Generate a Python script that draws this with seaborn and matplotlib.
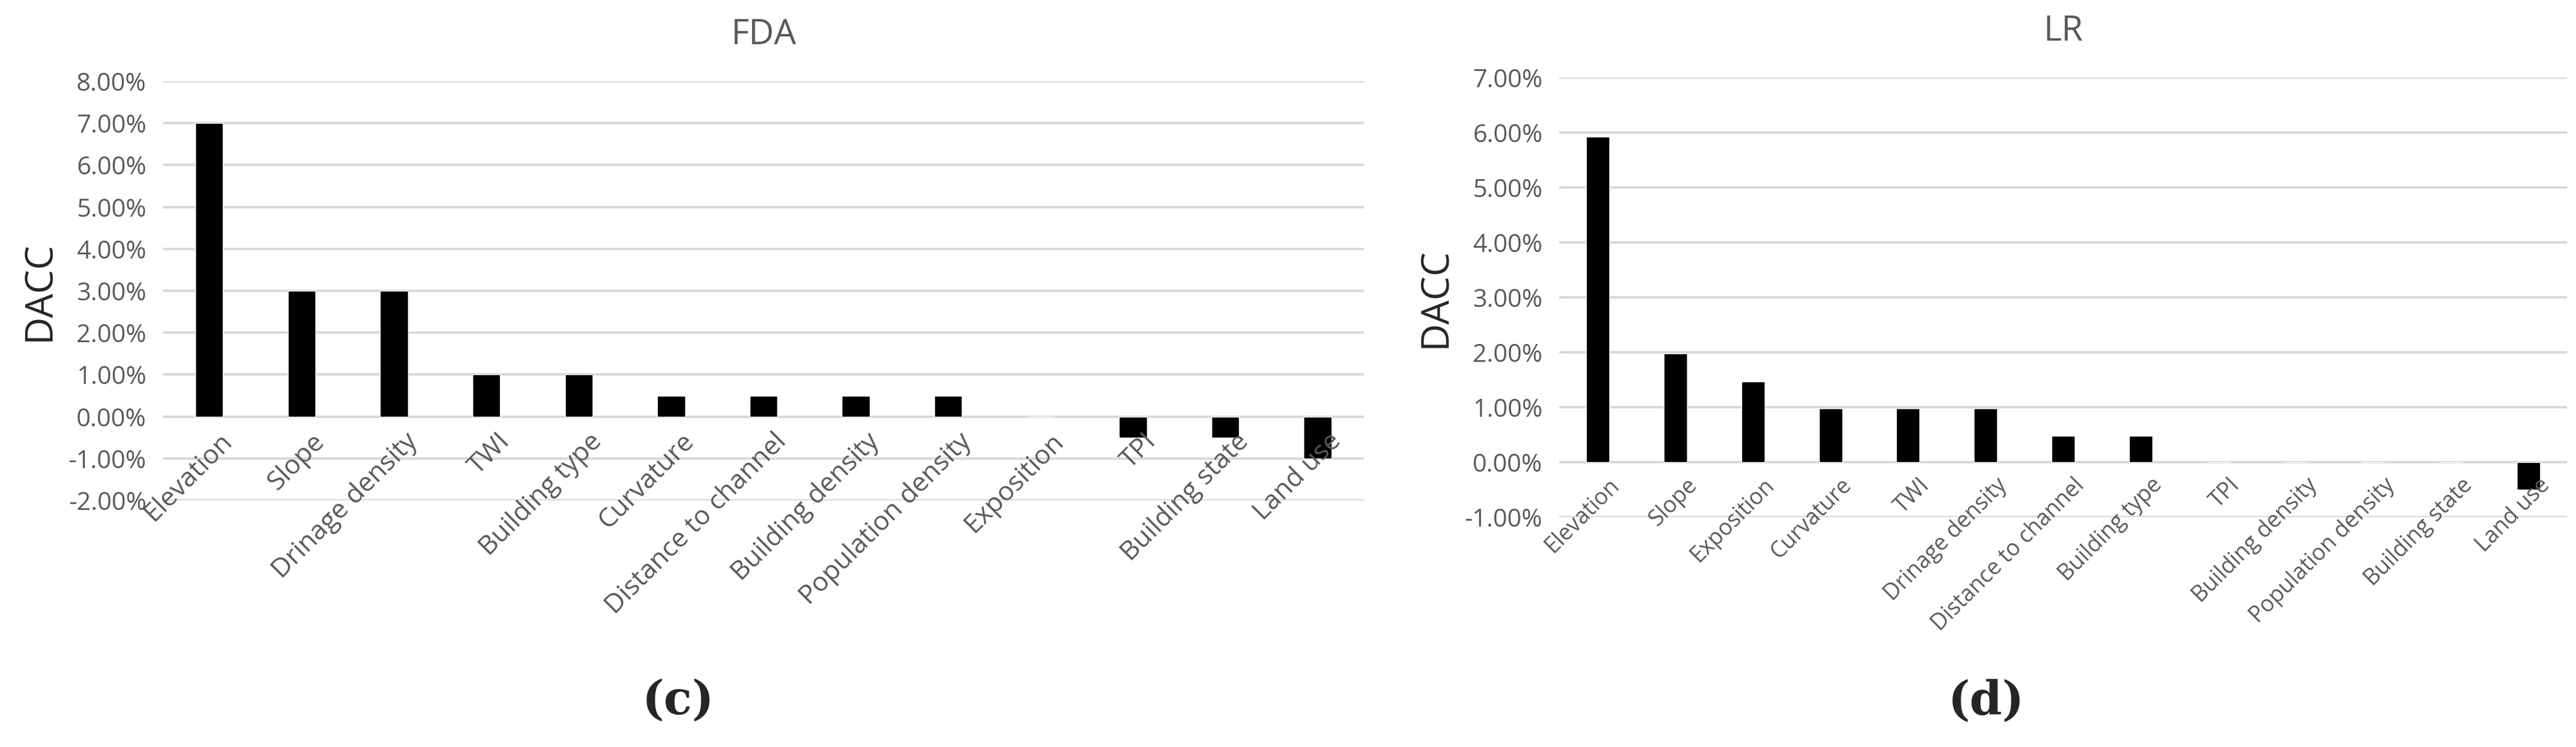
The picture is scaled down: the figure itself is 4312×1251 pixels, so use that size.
import matplotlib
matplotlib.use("Agg")
import matplotlib.pyplot as plt
import matplotlib.transforms as mtrans
import seaborn as sns
import pandas as pd
from matplotlib.ticker import FuncFormatter

fda_features = ["Elevation", "Slope", "Drinage density", "TWI", "Building type", "Curvature",
                "Distance to channel", "Building density", "Population density", "Exposition",
                "TPI", "Building state", "Land use"]
fda_values = [7.0, 3.0, 3.0, 1.0, 1.0, 0.5, 0.5, 0.5, 0.5, 0.0, -0.5, -0.5, -1.0]
fda_ticks = [-2, -1, 0, 1, 2, 3, 4, 5, 6, 7, 8]

lr_features = ["Elevation", "Slope", "Exposition", "Curvature", "TWI", "Drinage density",
               "Distance to channel", "Building type", "TPI", "Building density",
               "Population density", "Building state", "Land use"]
lr_values = [5.92, 1.98, 1.47, 0.98, 0.98, 0.98, 0.48, 0.48, 0.0, 0.0, 0.0, 0.0, -0.5]
lr_ticks = [-1, 0, 1, 2, 3, 4, 5, 6, 7]

sns.set_theme(style="white")
plt.rcParams['font.family'] = ['Open Sans', 'DejaVu Sans']

fig = plt.figure(figsize=(43.12, 12.51), dpi=100)
ax1 = fig.add_axes([273/4312, 1-838/1251, (2283-273)/4312, (838-136)/1251])
ax2 = fig.add_axes([2610/4312, 1-866/1251, (4297-2610)/4312, (866-130)/1251])

def draw(ax, feats, vals, ticks, title, letter, lx, xsize):
    df = pd.DataFrame({"f": feats, "v": vals})
    sns.barplot(data=df, x="f", y="v", color="black", width=0.3, ax=ax, saturation=1)
    ax.set_ylim(ticks[0], ticks[-1])
    ax.set_yticks(ticks)
    ax.yaxis.set_major_formatter(FuncFormatter(lambda v, p: f"{v:.2f}%"))
    ax.grid(axis="y", color="#d9d9d9", linewidth=3)
    ax.set_axisbelow(True)
    for s in ax.spines.values():
        s.set_visible(False)
    ax.tick_params(axis="y", labelsize=30, labelcolor="#595959", length=0, pad=20)
    pos = ax.get_xticks()
    ax.set_xticks(pos)
    ax.set_xticklabels([])
    ax.tick_params(axis="x", length=0)
    tr = mtrans.offset_copy(ax.transData, fig=fig, x=12, y=-14, units="points")
    for p, lab in zip(pos, feats):
        ax.text(p, 0, lab, transform=tr, rotation=45, ha="right", va="top",
                rotation_mode="anchor", fontsize=xsize, color="#595959", clip_on=False)
    ax.set_xlabel("")
    ax.set_ylabel("DACC", fontsize=46, labelpad=12)
    ax.set_title(title, fontsize=42, color="#595959", pad=45)
    fig.text(lx, 1-1175/1251, letter, fontsize=56, fontfamily="DejaVu Serif",
             ha="center", va="center", fontweight="bold")

draw(ax1, fda_features, fda_values, fda_ticks, "FDA", "(c)", 1135/4312, 32)
draw(ax2, lr_features, lr_values, lr_ticks, "LR", "(d)", 3325/4312, 27)

fig.savefig("out.png", dpi=100)
